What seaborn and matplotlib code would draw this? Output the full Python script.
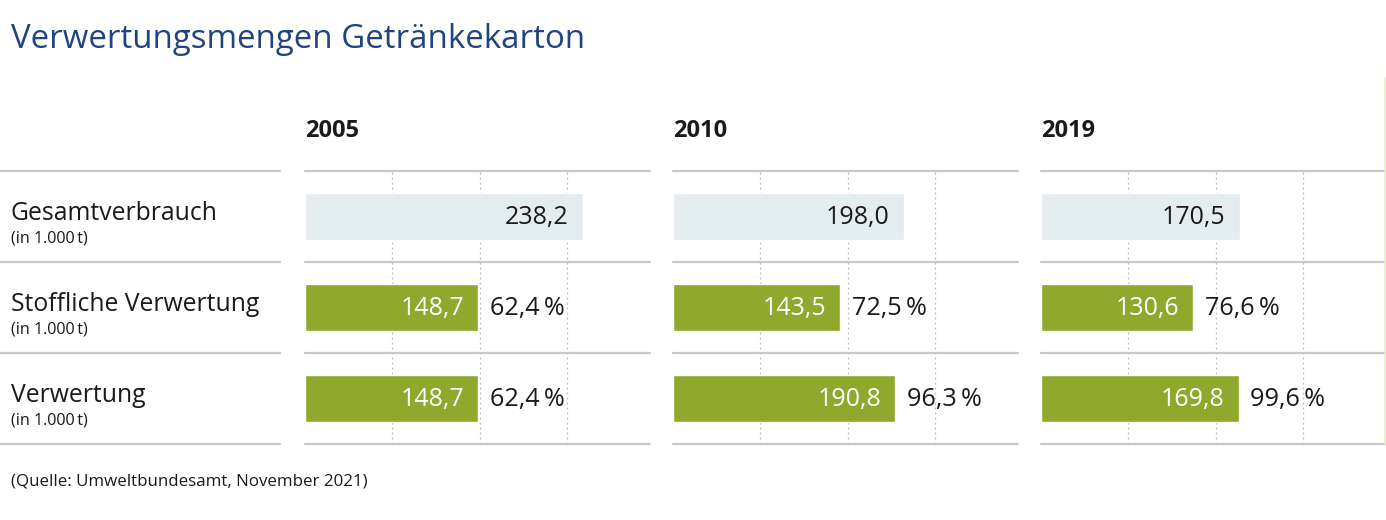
import pandas as pd
import matplotlib
matplotlib.use("Agg")
import matplotlib.pyplot as plt
import seaborn as sns

# data
years = ["2005", "2010", "2019"]
categories = ["Gesamtverbrauch", "Stoffliche Verwertung", "Verwertung"]
gesamt = [238.2, 198.0, 170.5]
stofflich = [148.7, 143.5, 130.6]
verwertung = [148.7, 190.8, 169.8]
pct_stofflich = [62.4, 72.5, 76.6]
pct_verwertung = [62.4, 96.3, 99.6]
grid_ticks = [75, 150, 225]

title = "Verwertungsmengen Getränkekarton"
unit_label = "(in 1.000\u2009t)"
source = "(Quelle: Umweltbundesamt, November 2021)"

BLUE = "#1f4481"
GREEN = "#90a82e"
LIGHT = "#e3ecee"
LINE = "#c8c8c8"
TXT = "#1a1a1a"

rows = []
for i, y in enumerate(years):
    rows.append({"year": y, "category": categories[0], "value": gesamt[i], "pct": None})
    rows.append({"year": y, "category": categories[1], "value": stofflich[i], "pct": pct_stofflich[i]})
    rows.append({"year": y, "category": categories[2], "value": verwertung[i], "pct": pct_verwertung[i]})
df = pd.DataFrame(rows)

sns.set_theme(style="white")
plt.rcParams["font.family"] = ["Open Sans", "DejaVu Sans"]

W, H = 1386, 520
fig = plt.figure(figsize=(W / 100, H / 100), dpi=100)
fig.patch.set_facecolor("white")

def fx(px):
    return px / W

def fy(px):
    return 1 - px / H

top, bottom = 171, 444
panel_left = [305, 673, 1041]
panel_w = 345
px_per_unit = 1.165
xmax = panel_w / px_per_unit

fig.text(fx(11), fy(39), title, color=BLUE, fontsize=23.8, va="center", ha="left")

# left label column
row_h = (bottom - top) / 3
for k, cat in enumerate(categories):
    yc = top + row_h * k + row_h / 2
    fig.text(fx(11), fy(yc - 3), cat, color=TXT, fontsize=17.8, va="center", ha="left")
    fig.text(fx(11), fy(yc + 22), unit_label, color=TXT, fontsize=11.6, va="center", ha="left")
for k in range(4):
    yl = fy(top + row_h * k)
    fig.add_artist(plt.Line2D([0, fx(280)], [yl, yl], color=LINE, lw=1.6))

palette = {categories[0]: LIGHT, categories[1]: GREEN, categories[2]: GREEN}

for i, year in enumerate(years):
    ax = fig.add_axes([fx(panel_left[i]), fy(bottom), fx(panel_w), (bottom - top) / H])
    sub = df[df["year"] == year]
    sns.barplot(data=sub, x="value", y="category", hue="category", order=categories,
                palette=palette, width=0.52, legend=False, ax=ax, saturation=1)
    ax.set_xlim(0, xmax)
    ax.set_ylim(2.5, -0.5)
    for t in grid_ticks:
        ax.axvline(t, color="#bbbbbb", lw=0.9, ls=(0, (1.5, 2.5)), zorder=0)
    for k in range(4):
        ax.axhline(k - 0.5, color=LINE, lw=1.6, zorder=3, clip_on=False)
    for k, (_, r) in enumerate(sub.iterrows()):
        col = TXT if k == 0 else "white"
        ax.text(r["value"] - 12, k + 0.01, f"{r['value']:.1f}".replace(".", ","), color=col,
                fontsize=18, va="center", ha="right")
        if r["pct"] is not None and not pd.isna(r["pct"]):
            ax.text(r["value"] + 10, k + 0.01, f"{r['pct']:.1f}".replace(".", ",") + "\u2009%",
                    color=TXT, fontsize=18.2, va="center", ha="left")
    ax.set_xlabel("")
    ax.set_ylabel("")
    ax.set_xticks([])
    ax.set_yticks([])
    for s in ax.spines.values():
        s.set_visible(False)
    ax.patch.set_alpha(0)
    fig.text(fx(panel_left[i]), fy(131), year, color=TXT, fontsize=17,
             fontweight="bold", va="center", ha="left")

# faint right edge line
fig.add_artist(plt.Line2D([fx(1385), fx(1385)], [fy(78), fy(445)], color="#e6ecc4", lw=1.2))

fig.text(fx(11), fy(481), source, color=TXT, fontsize=12.2, va="center", ha="left")

fig.savefig("out.png", dpi=100, facecolor="white")
